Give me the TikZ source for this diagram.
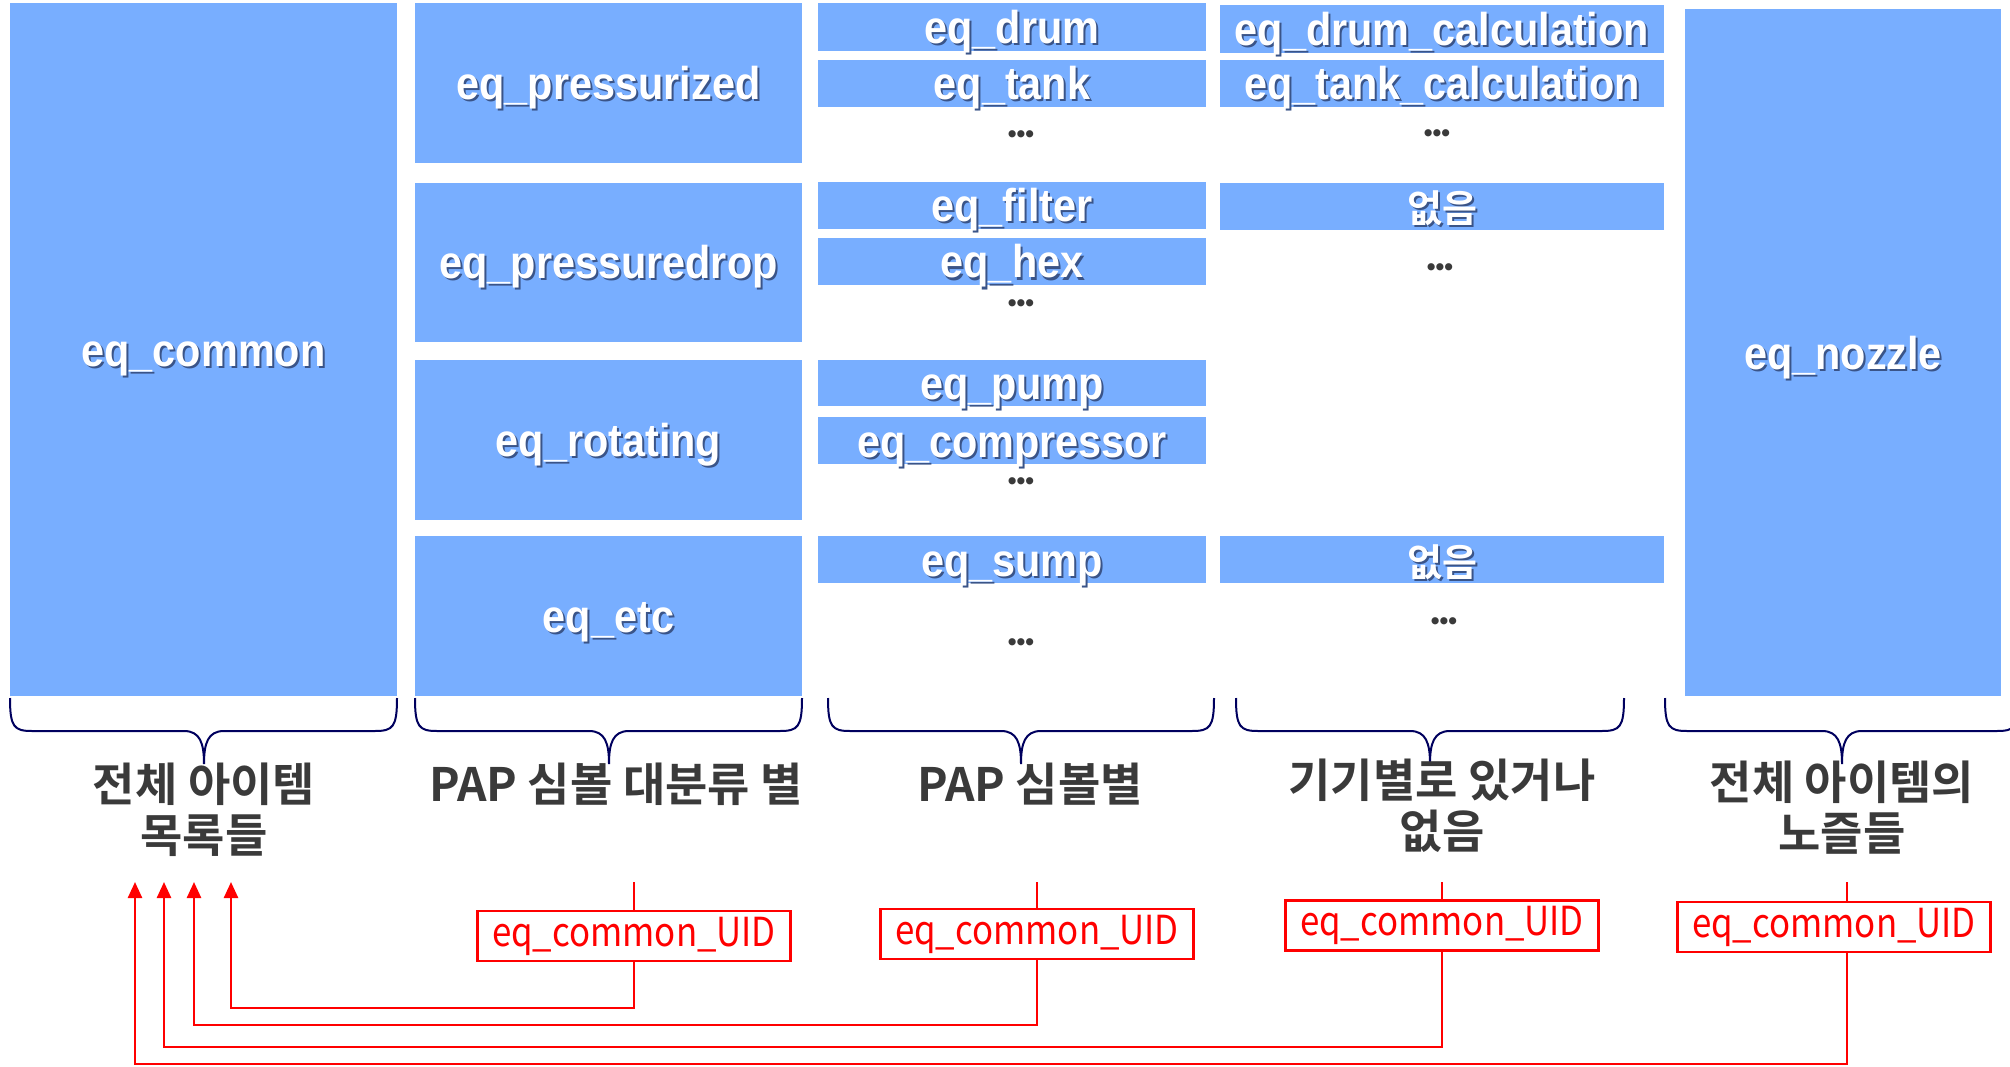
\documentclass[tikz,border=0pt]{standalone}
\usepackage{fontspec}
\usetikzlibrary{arrows.meta}
\newfontfamily\boxfont{Liberation Sans Bold}[FakeStretch=0.9]
\newfontfamily\krfont{Noto Sans CJK KR}
\newfontfamily\krbold{Noto Sans CJK KR Bold}
\newfontfamily\uidfont{Noto Sans CJK KR}[FakeStretch=0.87]
\newfontfamily\dotfont{Liberation Sans Bold}
\definecolor{boxblue}{HTML}{78AEFF}
\definecolor{shadowc}{HTML}{3A5488}
\definecolor{bracenavy}{HTML}{00005E}
\definecolor{labgray}{HTML}{3A3A3A}
\definecolor{uidred}{HTML}{FF0000}
\newcommand\shd[1]{\leavevmode\rlap{\kern2pt\raisebox{-2pt}{\color{shadowc}#1}}#1}
\newcommand\bbox[6]{\node[bluebox, minimum width={#4-#2}, minimum height={#5-#3}] (#1) at ({(#2+#4)/2},{(#3+#5)/2}) {\shd{#6}};}
\newcommand\mybrace[3]{%
  \draw[bracestyle] (#1,698) .. controls (#1,727) and ({#1+4},731) .. ({#1+22},731)
    -- ({#3-20},731) .. controls ({#3-4},731) and (#3,743) .. (#3,764)
    .. controls (#3,743) and ({#3+4},731) .. ({#3+20},731)
    -- ({#2-22},731) .. controls ({#2-4},731) and (#2,727) .. (#2,698);}
\tikzset{
  bluebox/.style={fill=boxblue, draw=none, inner sep=0pt, text=white,
    text height=33pt, text depth=0pt,
    font=\boxfont\fontsize{46}{50}\selectfont},
  bracestyle/.style={draw=bracenavy, line width=2pt},
  lab/.style={text=labgray, align=center, inner sep=0pt,
    font=\krbold\fontsize{46}{51}\selectfont},
  dotsn/.style={text=labgray, inner sep=0pt, font=\dotfont\fontsize{25}{28}\selectfont},
  uidbox/.style={draw=uidred, line width=2.5pt, text=uidred, inner sep=0pt,
    minimum width=313pt, minimum height=50pt, font=\uidfont\fontsize{40}{44}\selectfont},
  redline/.style={draw=uidred, line width=2.5pt},
  redarrow/.style={draw=uidred, line width=2.5pt, -{Triangle[length=16pt,width=14pt]}}
}
\begin{document}
\begin{tikzpicture}[x=1pt,y=-1pt]
\useasboundingbox (0,0) rectangle (2010,1067);
% column 1
\bbox{common}{10}{3}{397}{696}{eq\_common}
% column 2
\bbox{pressurized}{415}{3}{802}{163}{eq\_pressurized}
\bbox{pressuredrop}{415}{183}{802}{342}{eq\_pressuredrop}
\bbox{rotating}{415}{360}{802}{520}{eq\_rotating}
\bbox{etc}{415}{536}{802}{696}{eq\_etc}
% column 3
\bbox{drum}{818}{3}{1206}{51}{eq\_drum}
\bbox{tank}{818}{60}{1206}{107}{eq\_tank}
\bbox{filter}{818}{182}{1206}{229}{eq\_filter}
\bbox{hex}{818}{238}{1206}{285}{eq\_hex}
\bbox{pump}{818}{360}{1206}{406}{eq\_pump}
\bbox{compressor}{818}{417}{1206}{464}{eq\_compressor}
\bbox{sump}{818}{536}{1206}{583}{eq\_sump}
% column 4
\bbox{drumcalc}{1220}{5}{1664}{53}{eq\_drum\_calculation}
\bbox{tankcalc}{1220}{60}{1664}{107}{eq\_tank\_calculation}
\node[bluebox, minimum width=444pt, minimum height=47pt] (none1) at (1442,206.5) {\krbold\fontsize{38}{44}\selectfont\shd{없음}};
\node[bluebox, minimum width=444pt, minimum height=47pt] (none2) at (1442,559.5) {\krbold\fontsize{38}{44}\selectfont\shd{없음}};
% column 5
\bbox{nozzle}{1685}{9}{2001}{696}{eq\_nozzle}
% dots
\node[dotsn] (d1) at (1021,137) {•••};
\node[dotsn] (d2) at (1021,306) {•••};
\node[dotsn] (d3) at (1021,484) {•••};
\node[dotsn] (d4) at (1021,645) {•••};
\node[dotsn] (d5) at (1437,136) {•••};
\node[dotsn] (d6) at (1440,270) {•••};
\node[dotsn] (d7) at (1444,624) {•••};
% braces
\mybrace{10}{397}{204}
\mybrace{415}{802}{609}
\mybrace{828}{1214}{1021}
\mybrace{1236}{1624}{1430}
\mybrace{1665}{2019}{1842}
% labels
\node[lab] (l1) at (204,810) {전체 아이템\\목록들};
\node[lab] (l2) at (616,784) {PAP 심볼 대분류 별};
\node[lab] (l3) at (1030,784) {PAP 심볼별};
\node[lab] (l4) at (1442,806) {기기별로 있거나\\없음};
\node[lab] (l5) at (1842,808) {전체 아이템의\\노즐들};
% uid boxes
\node[uidbox] (u1) at (634,936) {eq\_common\_UID};
\node[uidbox] (u2) at (1037,934) {eq\_common\_UID};
\node[uidbox] (u3) at (1442,925.5) {eq\_common\_UID};
\node[uidbox] (u4) at (1834,927) {eq\_common\_UID};
\coordinate (s1) at (634,882);
\coordinate (s2) at (1037,882);
\coordinate (s3) at (1442,882);
\coordinate (s4) at (1847,882);
\coordinate (t1) at (231,882);
\coordinate (t2) at (194,882);
\coordinate (t3) at (164,882);
\coordinate (t4) at (135,882);
\draw[redline] (u1.north) -- (s1);
\draw[redline] (u2.north) -- (s2);
\draw[redline] (u3.north) -- (s3);
\draw[redline] (s4) -- (s4 |- u4.north);
\draw[redarrow] (u1.south) -- (634,1008) -| (t1);
\draw[redarrow] (u2.south) -- (1037,1025) -| (t2);
\draw[redarrow] (u3.south) -- (1442,1047) -| (t3);
\draw[redarrow] (s4 |- u4.south) -- (1847,1064) -| (t4);
\end{tikzpicture}
\end{document}
